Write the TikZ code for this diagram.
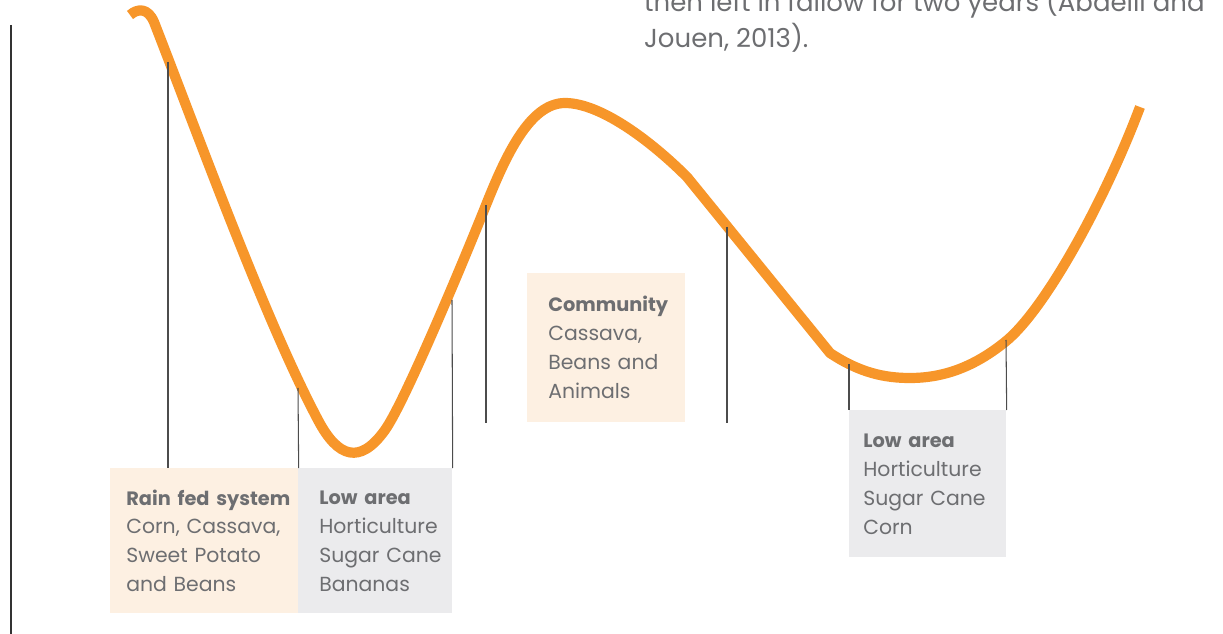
\documentclass[tikz,border=0pt]{standalone}
\usepackage{fontspec}
\setmainfont{Poppins}
\definecolor{curveorange}{HTML}{F7962A}
\definecolor{peach}{HTML}{FDF0E2}
\definecolor{lightgrey}{HTML}{EBEBED}
\definecolor{textgrey}{HTML}{6D6E71}
\newcommand\zonehead[1]{{\fontsize{11pt}{16.5pt}\selectfont\bfseries #1}}
\begin{document}
\begin{tikzpicture}
  [x=0.02cm,y=-0.02cm,
   zone/.style={rectangle,inner sep=0pt,align=left,anchor=north west,
     text=textgrey,font=\fontsize{11.6pt}{16.5pt}\selectfont,
     execute at begin node={\leftskip=#1\rightskip=-0.5cm plus 1fil\hyphenpenalty=10000}},
   stem/.style={draw=black!70,line width=0.6pt},
   rise/.style={draw=curveorange,line width=5.8pt,line join=round}]
\useasboundingbox (0,0) rectangle (1223,634); % keep page size
%
\node at (638,20) (note) [anchor=west,text=textgrey,
  font=\fontsize{14.8pt}{20.5pt}\selectfont,align=left]
  {then left in fallow for two years (Abdelli and\\Jouen, 2013).};
%
\draw [line width=1.7pt, black!80] (11,25) -- (11,634);
%
\draw [rise] (130,15) .. controls (138,8) and (148,8) .. (154,22)
  .. controls (200,140) and (265,320) .. (318,420)
  .. controls (338,458) and (360,465) .. (385,430)
  .. controls (405,402) and (466,255) .. (486,205)
  .. controls (506,155) and (530,103) .. (565,103)
  .. controls (600,103) and (650,140) .. (687,177)
  -- (830,353)
  .. controls (860,373) and (885,378) .. (910,378)
  .. controls (950,378) and (980,362) .. (1005,342)
  .. controls (1045,310) and (1105,200) .. (1140,107);
%
\coordinate (p1) at (168,62);
\coordinate (p2) at (298,388);
\coordinate (p3) at (452,300);
\coordinate (p4) at (486,205);
\coordinate (p5) at (727,227);
\coordinate (p6) at (849,364);
\coordinate (p7) at (1006,340);
%
\node at (110,468) (rain) [zone=0.32cm, fill=peach, text width=3.76cm, minimum height=2.9cm]
  {\zonehead{Rain fed system}\\Corn, Cassava,\\Sweet Potato\\and Beans};
\node at (298,468) (lowA) [zone=0.42cm, fill=lightgrey, text width=3.08cm, minimum height=2.9cm]
  {\zonehead{Low area}\\Horticulture\\Sugar Cane\\Bananas};
\node at (527,273) (comm) [zone=0.42cm, fill=peach, text width=3.16cm, minimum height=2.98cm]
  {\zonehead{Community}\\Cassava,\\Beans and\\Animals};
\node at (849,410) (lowB) [zone=0.28cm, fill=lightgrey, text width=3.14cm, minimum height=2.94cm]
  {\zonehead{Low area}\\Horticulture\\Sugar Cane\\Corn};
%
\draw [stem] (p1) -- (p1 |- rain.north);
\draw [stem] (p2) -- (rain.north east);
\draw [stem] (p3) -- (lowA.north east);
\draw [stem] (p4) -- (p4 |- comm.south);
\draw [stem] (p5) -- (p5 |- comm.south);
\draw [stem] (p6) -- (lowB.north west);
\draw [stem] (p7) -- (lowB.north east);
\end{tikzpicture}
\end{document}
